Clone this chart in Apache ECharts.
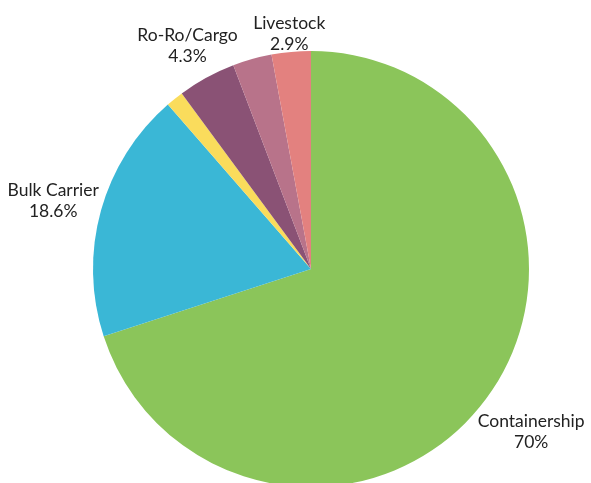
<!DOCTYPE html>
<html><head><meta charset="utf-8">
<script src="https://cdn.jsdelivr.net/npm/echarts@6/dist/echarts.min.js"></script>
<style>html,body{margin:0;padding:0;background:#fff}#c{width:591px;height:483px}</style>
</head><body><div id="c"></div>
<script>
var categories = ['Containership', 'Bulk Carrier', 'Other (yellow)', 'Ro-Ro/Cargo', 'Other (mauve)', 'Livestock'];
var shares = [70, 18.6, 1.3, 4.3, 2.9, 2.9];
var showLabel = [true, true, false, true, false, true];
var colors = ['#8BC55A', '#3AB7D6', '#FADC5C', '#8A5275', '#B8738A', '#E3817F'];

var CX = 311, CY = 269, R = 218;
var total = shares.reduce(function(a, b){ return a + b; }, 0);
function midDir(i) {
  var before = 0;
  for (var k = 0; k < i; k++) before += shares[k];
  var frac = (before + shares[i] / 2) / total;
  var a = frac * Math.PI * 2; // clockwise from top
  return [Math.sin(a), -Math.cos(a)];
}

var chart = echarts.init(document.getElementById('c'));
chart.setOption({
  animation: false,
  series: [{
    type: 'pie',
    center: [CX, CY],
    radius: [0, R],
    startAngle: 90,
    clockwise: true,
    avoidLabelOverlap: false,
    label: {
      show: true,
      position: 'outside',
      fontFamily: 'Lato',
      fontSize: 17.5,
      lineHeight: 21,
      color: '#222',
      align: 'center',
      formatter: function(p) { return p.name + '\n' + p.value + '%'; }
    },
    labelLine: { show: false, length: 5, length2: 0 },
    labelLayout: function(params) {
      var i = params.dataIndex;
      var u = midDir(i);
      var w = params.labelRect.width, h = params.labelRect.height;
      var d = R + 1 + (w / 2) * Math.abs(u[0]) + (h / 2) * Math.abs(u[1]) * 0.8;
      return { x: CX + u[0] * d, y: CY + u[1] * d + 3, align: 'center', verticalAlign: 'middle' };
    },
    data: categories.map(function(name, i) {
      return {
        name: name,
        value: shares[i],
        itemStyle: { color: colors[i] },
        label: { show: showLabel[i] }
      };
    })
  }]
});
</script>
</body></html>
